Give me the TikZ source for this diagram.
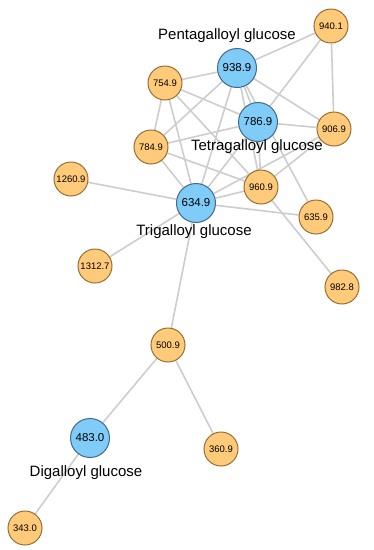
\documentclass[tikz,border=0pt]{standalone}
\usepackage{fontspec}
\setmainfont{Liberation Sans}
\usetikzlibrary{backgrounds}
\definecolor{fragfill}{RGB}{255,202,122}
\definecolor{fragline}{RGB}{150,112,50}
\definecolor{gallofill}{RGB}{128,204,248}
\definecolor{galloline}{RGB}{65,105,140}
\definecolor{edgegray}{RGB}{205,205,205}
\begin{document}
\begin{tikzpicture}[x=1pt, y=-1pt,
  frag/.style={circle, draw=fragline, fill=fragfill, line width=1pt, minimum size=34pt, inner sep=0pt, font=\fontsize{9.5}{10}\selectfont, text=black},
  gallo/.style={circle, draw=galloline, fill=gallofill, line width=1pt, minimum size=39pt, inner sep=0pt, font=\fontsize{11.5}{12}\selectfont, text=black},
  glucname/.style={font=\fontsize{15}{16}\selectfont, text=black},
  link/.style={draw=edgegray, line width=1.6pt}]
\useasboundingbox (0,0) rectangle (374,550);
\node[frag] (m9401) at (331,26) {940.1};
\node[gallo] (m9389) at (237,68) {938.9};
\node[frag] (m7549) at (165,83) {754.9};
\node[gallo] (m7869) at (258,122) {786.9};
\node[frag] (m9069) at (334,129) {906.9};
\node[frag] (m7849) at (151,147) {784.9};
\node[frag] (m9609) at (261,187) {960.9};
\node[frag] (m12609) at (71,179) {1260.9};
\node[gallo] (m6349) at (196,203) {634.9};
\node[frag] (m6359) at (316,217) {635.9};
\node[frag] (m13127) at (95,266) {1312.7};
\node[frag] (m9828) at (342,287) {982.8};
\node[frag] (m5009) at (168,345) {500.9};
\node[gallo] (m4830) at (90,438) {483.0};
\node[frag] (m3609) at (221,449) {360.9};
\node[frag] (m3430) at (25,528) {343.0};
\node[glucname] (penta) at (227,36) {Pentagalloyl glucose};
\node[glucname] (tetra) at (257,147) {Tetragalloyl glucose};
\node[glucname] (tri) at (194,232) {Trigalloyl glucose};
\node[glucname] (di) at (86,473) {Digalloyl glucose};
\begin{scope}[on background layer]
\draw[link] (m9401) -- (m9389);
\draw[link] (m9401) -- (m9069);
\draw[link] (m9401) -- (m7869);
\draw[link] (m9389) -- (m7549);
\draw[link] (m9389) -- (m7869);
\draw[link] (m9389) -- (m9069);
\draw[link] (m9389) -- (m7849);
\draw[link] (m9389) -- (m6349);
\draw[link] (m9389) -- (m9609);
\draw[link] (m9389) -- (m6359);
\draw[link] (m7549) -- (m7869);
\draw[link] (m7549) -- (m7849);
\draw[link] (m7549) -- (m6349);
\draw[link] (m7549) -- (m9609);
\draw[link] (m7849) -- (m7869);
\draw[link] (m7849) -- (m9609);
\draw[link] (m7849) -- (m6349);
\draw[link] (m7869) -- (m9069);
\draw[link] (m7869) -- (m9609);
\draw[link] (m7869) -- (m6349);
\draw[link] (m9069) -- (m9609);
\draw[link] (m9069) -- (m6349);
\draw[link] (m9609) -- (m6349);
\draw[link] (m9609) -- (m9828);
\draw[link] (m6349) -- (m12609);
\draw[link] (m6349) -- (m13127);
\draw[link] (m6349) -- (m6359);
\draw[link] (m6349) -- (m5009);
\draw[link] (m5009) -- (m4830);
\draw[link] (m5009) -- (m3609);
\draw[link] (m4830) -- (m3430);
\end{scope}
\end{tikzpicture}
\end{document}
